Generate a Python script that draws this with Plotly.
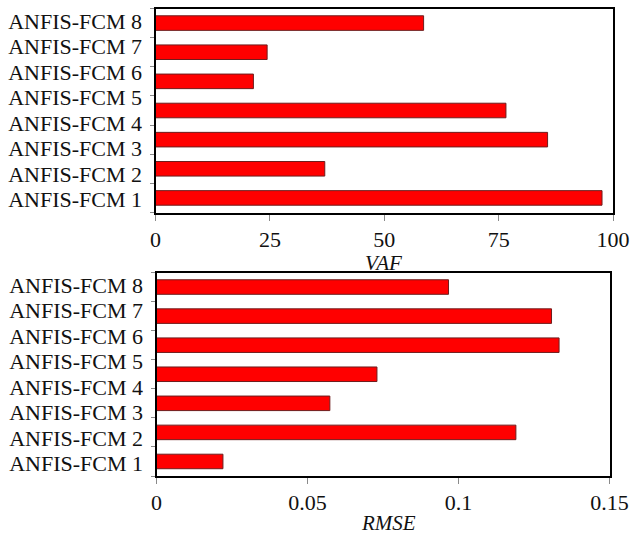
import plotly.graph_objects as go

# Category labels as printed (top to bottom)
model_labels = ["ANFIS-FCM 8", "ANFIS-FCM 7", "ANFIS-FCM 6", "ANFIS-FCM 5",
                "ANFIS-FCM 4", "ANFIS-FCM 3", "ANFIS-FCM 2", "ANFIS-FCM 1"]

# Bar values as drawn (top to bottom, 7 bars per panel)
vaf_values = [58.6, 24.4, 21.4, 76.6, 85.7, 37.0, 97.6]
rmse_values = [0.0967, 0.1308, 0.1333, 0.0730, 0.0574, 0.1190, 0.0220]

vaf_ticks = [0, 25, 50, 75, 100]
rmse_ticks = [0, 0.05, 0.1, 0.15]
rmse_ticktext = ["0", "0.05", "0.1", "0.15"]

FONT = "Liberation Serif"
TXT = "#111111"
W, H = 633, 535

slots_vaf = list(range(len(vaf_values)))
slots_rmse = list(range(len(rmse_values)))

bar_style = dict(color="#ff0000", line=dict(color="#6e1d1d", width=1))

fig = go.Figure()
fig.add_trace(go.Bar(x=vaf_values, y=slots_vaf, orientation="h", width=0.5,
                     marker=bar_style, xaxis="x", yaxis="y", showlegend=False))
fig.add_trace(go.Scatter(x=[0] * len(model_labels), y=model_labels, mode="markers",
                         marker=dict(opacity=0), xaxis="x", yaxis="y2",
                         hoverinfo="skip", showlegend=False))
fig.add_trace(go.Bar(x=rmse_values, y=slots_rmse, orientation="h", width=0.5,
                     marker=bar_style, xaxis="x2", yaxis="y3", showlegend=False))
fig.add_trace(go.Scatter(x=[0] * len(model_labels), y=model_labels, mode="markers",
                         marker=dict(opacity=0), xaxis="x2", yaxis="y4",
                         hoverinfo="skip", showlegend=False))

def px_x(a, b):
    return [a / W, b / W]

def px_y(top, bottom):
    return [1 - bottom / H, 1 - top / H]

common_x = dict(showline=True, mirror=True, linewidth=2, linecolor="black",
                showgrid=False, zeroline=False, ticks="outside", ticklen=6,
                tickcolor="#8a8a8a", tickwidth=1, automargin=False,
                tickfont=dict(family=FONT, size=22, color=TXT))

bar_y = lambda n: dict(showline=True, mirror=True, linewidth=2, linecolor="black",
                       showgrid=False, zeroline=False, range=[n - 0.5, -0.5],
                       tickmode="array", tickvals=[i - 0.5 for i in range(n + 1)],
                       ticktext=[""] * (n + 1), ticks="outside", ticklen=4,
                       tickcolor="#8a8a8a", tickwidth=1, showticklabels=False,
                       automargin=False)

label_y = lambda over, xa: dict(overlaying=over, anchor=xa, side="left", type="category",
                                range=[len(model_labels) - 0.5, -0.5],
                                tickmode="array", tickvals=model_labels,
                                showline=False, showgrid=False, zeroline=False,
                                ticks="outside", ticklen=8, tickcolor="rgba(0,0,0,0)",
                                automargin=False,
                                tickfont=dict(family=FONT, size=22, color=TXT))

fig.update_layout(
    width=W, height=H,
    margin=dict(l=0, r=0, t=0, b=0),
    paper_bgcolor="white", plot_bgcolor="rgba(0,0,0,0)",
    bargap=0.5,
    xaxis=dict(domain=px_x(155.5, 613), anchor="y", range=[0, 100],
               tickmode="array", tickvals=vaf_ticks, **common_x),
    yaxis=dict(domain=px_y(8.5, 212.5), anchor="x", **bar_y(len(vaf_values))),
    yaxis2=label_y("y", "x"),
    xaxis2=dict(domain=px_x(156.5, 609.5), anchor="y3", range=[0, 0.15],
                tickmode="array", tickvals=rmse_ticks, ticktext=rmse_ticktext, **common_x),
    yaxis3=dict(domain=px_y(272.5, 476), anchor="x2", **bar_y(len(rmse_values))),
    yaxis4=label_y("y3", "x2"),
    annotations=[
        dict(text="<i>VAF</i>", x=383 / W, y=1 - 263 / H, xref="paper", yref="paper",
             showarrow=False, xanchor="center", yanchor="middle",
             font=dict(family=FONT, size=21, color=TXT)),
        dict(text="<i>RMSE</i>", x=388 / W, y=1 - 523 / H, xref="paper", yref="paper",
             showarrow=False, xanchor="center", yanchor="middle",
             font=dict(family=FONT, size=21, color=TXT)),
    ],
)

fig.write_html("out.html", config={"displayModeBar": False},
               post_script="document.body.style.margin='0';document.body.style.overflow='hidden';")
